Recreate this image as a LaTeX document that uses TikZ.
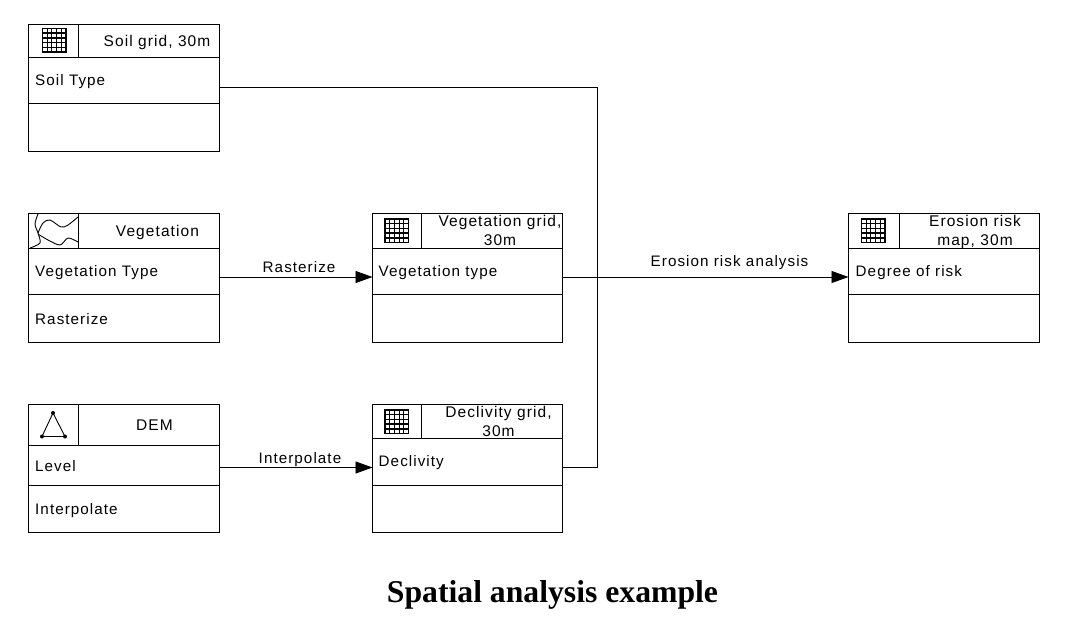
\documentclass[tikz,border=0pt]{standalone}
\usepackage{fontspec}
\setmainfont{Liberation Sans}[LetterSpace=7]
\newfontfamily\titlefont{Liberation Serif}
\usetikzlibrary{arrows.meta,calc}
\tikzset{
  x=1pt,y=-1pt,
  rowbox/.style={draw,line width=0.9pt,anchor=north west,inner sep=0pt,outer sep=0pt},
  rowtext/.style={anchor=west,inner sep=0pt,yshift=-1pt,font=\fontsize{15.2}{19}\selectfont},
  headtext/.style={align=center,inner sep=0pt,font=\fontsize{15.5}{19}\selectfont},
  flow/.style={line width=0.9pt},
  flowarrow/.style={flow,-{Triangle[length=17pt,width=12pt]}},
  flowlabel/.style={above,inner sep=0pt,text depth=0pt,yshift=4pt,font=\fontsize{15.2}{19}\selectfont},
  pics/gridicon/.style={code={
    \fill[white] (0,0) rectangle (23.5,23.5);
    \draw[line width=1.8pt] (0,0) rectangle (23.5,23.5);
    \foreach \k in {1,...,4} {\draw[line width=1.1pt] ({\k*23.5/5},0)--({\k*23.5/5},23.5);}
    \foreach \k in {1,...,4} {\draw[line width=1.4pt] (0,{\k*23.5/5})--(23.5,{\k*23.5/5});}
  }}
}
% one class box: head row split in icon and name, then two rows
\newcommand{\classbox}[8]{% name, x, y, icon width, head, attr, oper, total width
  \node[rowbox,minimum width=#4,minimum height=#5] (#1icon) at (#2,#3) {};
  \node[rowbox,minimum width=#8-#4,minimum height=#5] (#1head) at (#1icon.north east) {};
  \node[rowbox,minimum width=#8,minimum height=#6] (#1attr) at (#1icon.south west) {};
  \node[rowbox,minimum width=#8,minimum height=#7] (#1oper) at (#1attr.south west) {};
}
\begin{document}
\begin{tikzpicture}
  \useasboundingbox (0,0) rectangle (1080,642);
  \fill[white] (0,0) rectangle (1080,642);

  \classbox{soil}{28.5}{24}{50}{33.5}{46}{48}{191}
  \classbox{veg}{28.5}{213.5}{50}{35}{46}{48}{191}
  \classbox{dem}{28.5}{404.5}{50}{40.5}{40}{47}{191}
  \classbox{veggrid}{372.5}{213.5}{49}{35}{46}{48}{190}
  \classbox{decl}{372.5}{404.5}{49}{33.5}{47}{47}{190}
  \classbox{risk}{848.5}{213.5}{50.5}{35}{46}{48}{190.5}

  \node[headtext] (soilname) at (157,42.5) {Soil grid, 30m};
  \node[headtext] (vegname) at (157.5,232) {Vegetation};
  \node[headtext] (demname) at (154.5,425) {DEM};
  \node[headtext] (veggridname) at (500,230) {Vegetation grid,\\30m};
  \node[headtext] (declname) at (498.5,421) {Declivity grid,\\30m};
  \node[headtext] (riskname) at (975,231.5) {Erosion risk\\map, 30m};

  \node[rowtext] at ($(soilattr.west)+(6.5,0)$) {Soil Type};
  \node[rowtext] at ($(vegattr.west)+(6.5,0)$) {Vegetation Type};
  \node[rowtext] at ($(vegoper.west)+(6.5,0)$) {Rasterize};
  \node[rowtext] at ($(demattr.west)+(6.5,0)$) {Level};
  \node[rowtext] at ($(demoper.west)+(6.5,1)$) {Interpolate};
  \node[rowtext] at ($(veggridattr.west)+(6,0)$) {Vegetation type};
  \node[rowtext] at ($(declattr.west)+(6,0)$) {Declivity};
  \node[rowtext] at ($(riskattr.west)+(7,0)$) {Degree of risk};

  \pic at (42.5,28.5) {gridicon};
  \pic at (385,219) {gridicon};
  \pic at (385,410) {gridicon};
  \pic at (861.5,219) {gridicon};

  % vegetation map symbol
  \draw[line width=0.9pt] plot[smooth] coordinates {(38,214) (35,224) (38,233) (40,243) (30,248)};
  \draw[line width=0.9pt] plot[smooth] coordinates {(38,233) (43,223) (50,220) (61,227) (68,225) (78,217)};
  \draw[line width=0.9pt] plot[smooth] coordinates {(38,234) (48,240) (60,245) (68,238) (78,242)};
  % triangle symbol
  \draw[line width=0.9pt] (53,413) -- (42,436.5) -- (65,436.5) -- cycle;
  \foreach \p in {(53,413),(42,436.5),(65,436.5)} {\fill \p circle (2pt);}

  \coordinate (soilout) at ($(soilattr.east)+(0,6.5)$);
  \coordinate (vegout) at ($(vegattr.east)+(0,5.5)$);
  \coordinate (demout) at ($(demattr.east)+(0,2.5)$);
  \coordinate (declout) at ($(declattr.east)+(0,6)$);
  \coordinate (veggridout) at ($(veggridattr.east)+(0,5.5)$);
  \coordinate (riskin) at ($(riskattr.west)+(0,5.5)$);
  \coordinate (junction) at (597.5,277);
  \draw[flow] (soilout) -| (junction);
  \draw[flow] (declout) -| (junction);
  \draw[flowarrow] (vegout) -- node[flowlabel,pos=0.52] {Rasterize} (vegout -| veggridattr.west);
  \draw[flowarrow] (demout) -- node[flowlabel,pos=0.526] {Interpolate} (demout -| declattr.west);
  \draw[flowarrow] (veggridout) -- node[flowlabel,pos=0.584,yshift=6pt] {Erosion risk analysis} (riskin);

  \node[font=\titlefont\bfseries\fontsize{31.7}{36}\selectfont] (caption) at (552.5,594.5) {Spatial analysis example};
\end{tikzpicture}
\end{document}
